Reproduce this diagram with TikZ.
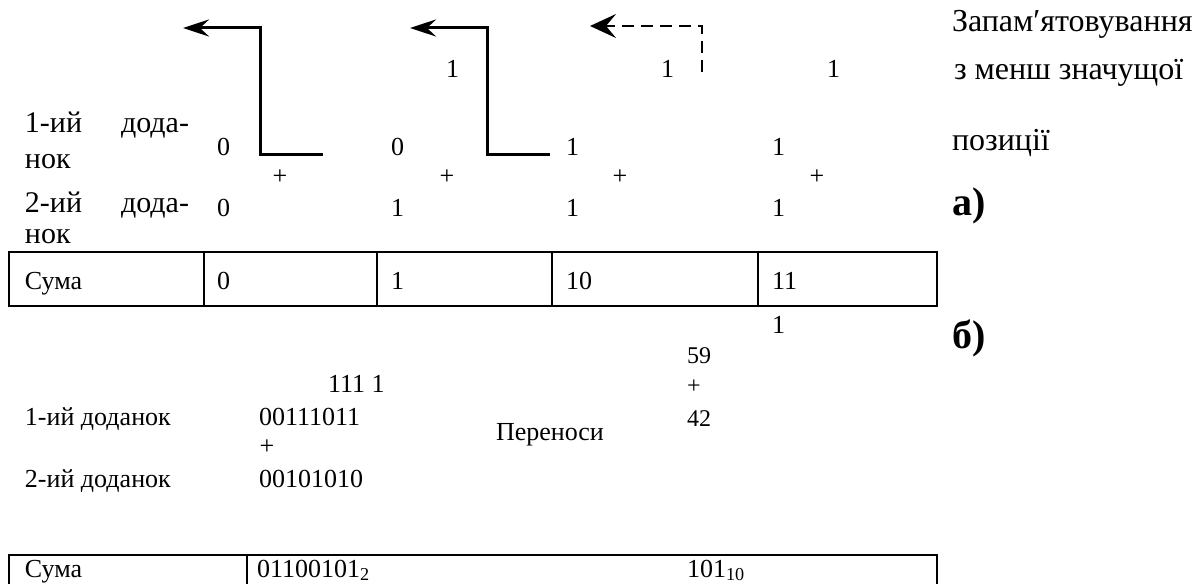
\documentclass[tikz,border=0pt]{standalone}
\usepackage{fontspec}
\setmainfont{LiberationSerif}[Extension=.ttf, UprightFont=*-Regular, BoldFont=*-Bold]
\usetikzlibrary{arrows.meta}

\begin{document}
\begin{tikzpicture}[x=0.5pt,y=-0.5pt,
  every node/.style={inner sep=0pt, outer sep=0pt, anchor=base west},
  lbl/.style={font=\fontsize{15}{18}\selectfont},
  dig/.style={font=\fontsize{13}{16}\selectfont},
  sml/.style={font=\fontsize{12}{14}\selectfont},
  note/.style={font=\fontsize{16}{19}\selectfont},
  tag/.style={font=\fontsize{20}{24}\selectfont\bfseries},
  plus/.style={font=\fontsize{13}{16}\selectfont, anchor=center},
  carry/.style={line width=1.5pt, line join=miter,
    -{Stealth[length=13pt,width=8.5pt,inset=4.5pt]}},
  carrydash/.style={line width=1pt, line join=miter, dash pattern=on 6pt off 3.5pt,
    -{Stealth[length=13pt,width=12pt,inset=5pt]}},
  grid/.style={line width=0.75pt}]

\clip (0,0) rectangle (1197,583);

% ---------- a) adding column by column ----------
% carry arrows
\coordinate (c1s) at (323,154); \coordinate (c1b) at (260,154);
\coordinate (c1t) at (260,28);  \coordinate (c1e) at (183,28);
\coordinate (c2s) at (550,154); \coordinate (c2b) at (487,154);
\coordinate (c2t) at (487,28);  \coordinate (c2e) at (410,28);
\coordinate (c3s) at (702,72);  \coordinate (c3t) at (702,26);
\coordinate (c3e) at (590,26);
\draw[carry] (c1s) -- (c1b) -- (c1t) -- (c1e);
\draw[carry] (c2s) -- (c2b) -- (c2t) -- (c2e);
\draw[carrydash] (c3s) -- (c3t) -- (c3e);

% carried ones
\node[dig] (k2) at (446,78) {1};
\node[dig] (k3) at (661,78) {1};
\node[dig] (k4) at (827,78) {1};

% row labels
\node[lbl] (l1a) at (25,132) {1-ий};
\node[lbl, anchor=base east] (l1b) at (189,132) {дода-};
\node[lbl] (l1c) at (25,168) {нок};
\node[lbl] (l2a) at (25,212) {2-ий};
\node[lbl, anchor=base east] (l2b) at (189,212) {дода-};
\node[lbl] (l2c) at (25,243) {нок};

% first addend
\node[dig] (a1) at (217,155) {0};
\node[dig] (a2) at (391,155) {0};
\node[dig] (a3) at (566,155) {1};
\node[dig] (a4) at (772,155) {1};
% plus signs
\node[plus] (p1) at (280,177) {+};
\node[plus] (p2) at (447,177) {+};
\node[plus] (p3) at (620,177) {+};
\node[plus] (p4) at (817,177) {+};
% second addend
\node[dig] (b1) at (217,216) {0};
\node[dig] (b2) at (391,216) {1};
\node[dig] (b3) at (566,216) {1};
\node[dig] (b4) at (772,216) {1};

% sum table
\draw[grid] (9,252) rectangle (937,306);
\foreach \xx in {204,377,552,758} \draw[grid] (\xx,252) -- (\xx,306);
\node[dig] (s0) at (25,289) {Сума};
\node[dig] (s1) at (217,289) {0};
\node[dig] (s2) at (391,289) {1};
\node[dig] (s3) at (566,289) {10};
\node[dig] (s4) at (772,289) {11};
\node[dig] (s5) at (772,333) {1};

% side notes
\node[note] (n1) at (952,32) {Запам′ятовування};
\node[note] (n2) at (954,80) {з менш значущої};
\node[note] (n3) at (952,150) {позиції};
\node[tag] (ta) at (952,215) {а)};
\node[tag] (tb) at (952,348) {б)};

% ---------- b) adding whole numbers ----------
\node[sml] (d1) at (687,363) {59};
\node[sml, anchor=center] (d2) at (694,387) {+};
\node[sml] (d3) at (687,426) {42};

\node[dig] (cr) at (328,392) {111 1};
\node[dig] (crl) at (496,440) {Переноси};
\node[dig] (m1l) at (25,425) {1-ий доданок};
\node[dig] (m1) at (259,425) {00111011};
\node[plus] (mp) at (267,447) {+};
\node[dig] (m2l) at (25,487) {2-ий доданок};
\node[dig] (m2) at (259,487) {00101010};

\draw[grid] (9,555) rectangle (937,630);
\draw[grid] (247,555) -- (247,630);
\node[dig] (r0) at (25,577) {Сума};
\node[dig] (r1) at (257,577) {01100101\textsubscript{2}};
\node[dig] (r2) at (687,577) {101\textsubscript{10}};
\end{tikzpicture}
\end{document}
